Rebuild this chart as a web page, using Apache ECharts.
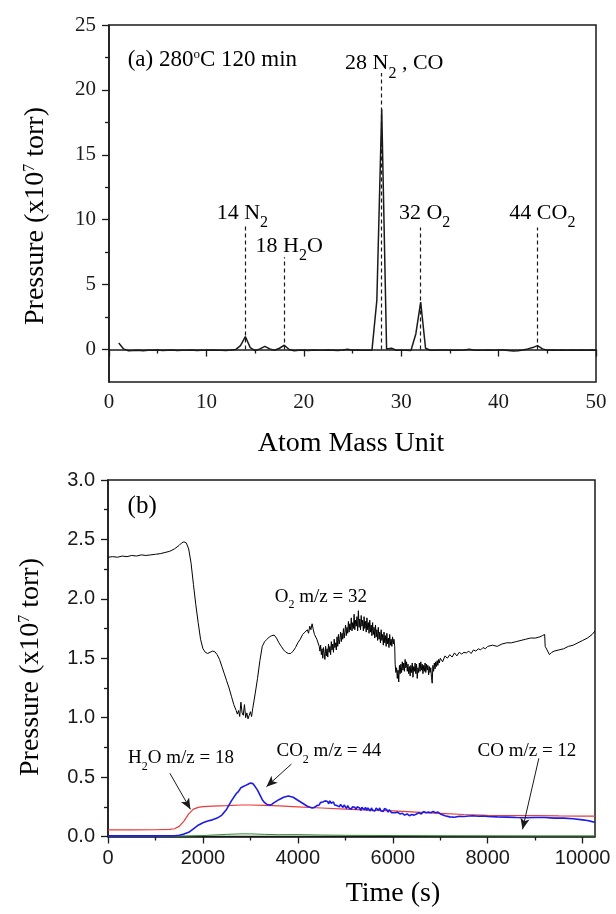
<!DOCTYPE html>
<html><head><meta charset="utf-8">
<script src="https://cdn.jsdelivr.net/npm/echarts@6/dist/echarts.min.js"></script>
<style>html,body{margin:0;padding:0;background:#fff}#c{width:616px;height:914px}</style>
</head><body><div id="c"></div>
<script>
// ---------- (a) mass spectrum ----------
const spectrum = [[1,0.5],[1.5,0.05],[2,-0.1],[2.5,-0.08],[3,-0.05],[3.5,-0.1],[4,-0.05],[4.5,-0.06],[5,-0.04],[5.5,-0.08],
[6,-0.05],[6.5,-0.04],[7,-0.07],[7.5,-0.05],[8,-0.06],[8.5,-0.04],[9,-0.07],[9.5,-0.05],[10,-0.06],[10.5,-0.03],
[11,-0.06],[11.5,-0.05],[12,-0.07],[12.5,-0.04],[13,0.0],[13.5,0.3],[14,1.0],[14.5,0.15],[15,-0.08],[15.5,0.05],
[16,0.25],[16.5,0.05],[17,-0.05],[17.5,0.1],[18,0.33],[18.5,0.0],[19,-0.1],[19.5,-0.06],[20,-0.05],[20.5,-0.08],
[21,-0.04],[21.5,-0.05],[22,-0.06],[22.5,-0.03],[23,-0.05],[23.5,-0.07],[24,-0.04],[24.5,0.02],[25,-0.05],[25.5,-0.03],
[26,-0.06],[26.5,-0.05],[27,-0.05],[27.5,3.8],[28,18.5],[28.5,0.05],[29,0.1],[29.5,-0.05],[30,-0.06],[30.5,-0.05],
[31,-0.08],[31.5,1.2],[32,3.65],[32.5,0.1],[33,-0.05],[33.5,-0.06],[34,-0.04],[34.5,-0.03],[35,-0.05],[35.5,-0.06],
[36,-0.05],[36.5,-0.04],[37,0.02],[37.5,-0.05],[38,-0.06],[38.5,-0.05],[39,-0.04],[39.5,-0.05],[40,-0.03],[40.5,-0.04],
[41,-0.08],[41.5,-0.12],[42,-0.1],[42.5,-0.04],[43,0.05],[43.5,0.15],[44,0.3],[44.5,0.05],[45,-0.05],[45.5,-0.04],
[46,-0.05],[46.5,-0.03],[47,-0.05],[47.5,-0.04],[48,-0.05],[48.5,-0.04],[49,-0.05],[49.5,-0.04],[50,-0.05]];
const specYTicks = [0,5,10,15,20,25];
const specYMinor = [2.5,7.5,12.5,17.5,22.5];
// dashed guide lines: [mass, top value]
const peakGuides = [[14,9.5],[18,7.1],[28,21.3],[32,9.4],[44,9.4]];
// peak labels: rich text, anchor [mass, value] = left / baseline
const peakLabelText = ['{m|14 N}{s|2}','{m|18 H}{s|2}{m|O}','{m|28 N}{s|2}{m| , CO}','{m|32 O}{s|2}','{m|44 CO}{s|2}'];
const peakLabelAt = [[11.06,9.96],[15.05,7.44],[24.23,21.5],[29.77,9.96],[41.1,9.96]];
const titleAText = '{m|(a) 280}{u|o}{m|C 120 min}';
const titleAAt = [1.92,21.77];

// ---------- (b) pressure vs time ----------
const o2 = [[0,2.35],[100,2.355],[200,2.35],[300,2.36],[400,2.355],[500,2.365],[600,2.36],[700,2.37],[800,2.365],[900,2.37],
[1000,2.375],[1100,2.38],[1200,2.39],[1300,2.40],[1400,2.42],[1500,2.45],[1550,2.47],[1600,2.48],[1650,2.47],[1700,2.42],
[1750,2.30],[1800,2.12],[1850,1.95],[1900,1.80],[1950,1.66],[2000,1.58],[2050,1.55],[2100,1.54],[2150,1.55],[2200,1.56],
[2250,1.555],[2300,1.53],[2350,1.49],[2400,1.43],[2450,1.37],[2500,1.31],[2550,1.25],[2600,1.18],[2650,1.11],[2700,1.06],
[2725,1.03],[2750,1.06],[2775,1.01],[2800,1.13],[2825,1.04],[2850,1.02],[2875,1.11],[2900,1.0],[2925,1.04],[2950,0.99],
[2975,1.02],[3000,1.05],[3025,1.01],[3050,1.08],[3100,1.2],[3150,1.33],[3200,1.48],[3250,1.6],[3300,1.64],[3350,1.66],
[3400,1.68],[3450,1.69],[3500,1.695],[3550,1.67],[3600,1.63],[3650,1.6],[3700,1.57],[3750,1.55],[3800,1.54],[3850,1.54],
[3900,1.56],[3950,1.59],[4000,1.63],[4050,1.66],[4100,1.7],[4150,1.72],[4200,1.74],[4225,1.71],[4250,1.77],[4275,1.74],
[4300,1.79],[4325,1.74],[4350,1.70],[4400,1.66],
[4450,1.60],[4465,1.56],[4480,1.61],[4495,1.53],[4510,1.58],[4525,1.50],[4540,1.59],[4555,1.54],[4570,1.49],[4585,1.60],
[4600,1.52],[4615,1.58],[4630,1.51],[4645,1.62],[4660,1.55],[4675,1.60],[4690,1.53],[4705,1.64],[4720,1.57],[4735,1.62],
[4750,1.55],[4765,1.66],[4780,1.59],[4795,1.63],[4810,1.57],[4825,1.68],[4840,1.60],[4855,1.70],[4870,1.62],[4885,1.66],
[4900,1.72],[4915,1.64],[4930,1.71],[4945,1.66],[4960,1.75],[4975,1.67],[4990,1.72],[5005,1.78],[5020,1.69],[5035,1.76],
[5050,1.71],[5065,1.81],[5080,1.72],[5095,1.79],[5110,1.74],[5125,1.84],[5140,1.73],[5155,1.80],[5170,1.75],[5185,1.87],
[5200,1.74],[5215,1.82],[5230,1.77],[5245,1.85],[5260,1.73],[5275,1.90],[5290,1.76],[5305,1.83],[5320,1.74],[5335,1.86],
[5350,1.77],[5365,1.82],[5380,1.73],[5395,1.85],[5410,1.75],[5425,1.81],[5440,1.72],[5455,1.84],[5470,1.74],[5485,1.80],
[5500,1.71],[5515,1.82],[5530,1.72],[5545,1.78],[5560,1.69],[5575,1.80],[5590,1.70],[5605,1.76],[5620,1.67],[5635,1.78],
[5650,1.68],[5665,1.74],[5680,1.65],[5695,1.76],[5710,1.66],[5725,1.72],[5740,1.63],[5755,1.74],[5770,1.65],[5785,1.70],
[5800,1.61],[5815,1.72],[5830,1.63],[5845,1.69],[5860,1.60],[5875,1.71],[5890,1.62],[5905,1.67],[5920,1.59],[5935,1.70],
[5950,1.61],[5965,1.66],[5980,1.60],[5995,1.68],[6010,1.62],[6025,1.66],[6040,1.60],[6050,1.45],
[6065,1.38],[6080,1.42],[6095,1.33],[6110,1.40],[6125,1.30],[6140,1.44],[6155,1.37],[6170,1.45],[6185,1.38],[6200,1.47],
[6215,1.40],[6230,1.46],[6245,1.39],[6260,1.49],[6275,1.42],[6290,1.47],[6305,1.39],[6320,1.45],[6335,1.37],[6350,1.43],
[6365,1.35],[6380,1.44],[6395,1.38],[6410,1.46],[6425,1.34],[6440,1.43],[6455,1.39],[6470,1.46],[6485,1.37],[6500,1.45],
[6515,1.33],[6530,1.42],[6545,1.38],[6560,1.46],[6575,1.39],[6590,1.47],[6605,1.40],[6620,1.45],[6635,1.37],[6650,1.44],
[6665,1.39],[6680,1.46],[6695,1.38],[6710,1.45],[6725,1.40],[6740,1.44],[6755,1.36],[6770,1.43],[6785,1.38],[6800,1.42],
[6815,1.34],[6830,1.29],[6845,1.44],[6860,1.39],[6875,1.46],[6890,1.41],[6905,1.47],[6920,1.43],[6935,1.48],[6950,1.44],
[6965,1.49],[6980,1.46],[7000,1.5],
[7050,1.47],[7100,1.52],[7150,1.5],[7200,1.53],[7250,1.51],[7300,1.545],
[7350,1.52],[7400,1.55],[7450,1.535],[7500,1.55],[7550,1.545],[7600,1.56],[7650,1.54],[7700,1.57],[7750,1.56],[7800,1.58],
[7850,1.57],[7900,1.59],[7950,1.58],[8000,1.6],[8100,1.61],[8200,1.6],[8300,1.62],[8400,1.63],[8500,1.63],[8600,1.64],
[8700,1.65],[8800,1.66],[8900,1.67],[9000,1.67],[9100,1.68],[9150,1.69],[9200,1.7],[9210,1.6],[9250,1.57],[9300,1.53],
[9350,1.55],[9400,1.56],[9500,1.57],[9600,1.58],[9700,1.6],[9800,1.61],[9900,1.63],[10000,1.65],[10100,1.67],[10200,1.7],
[10260,1.73]];
const h2o = [[0,0.055],[500,0.056],[1000,0.057],[1300,0.06],[1400,0.065],[1500,0.085],[1600,0.13],[1700,0.19],[1800,0.23],
[1900,0.245],[2000,0.252],[2200,0.256],[2500,0.26],[2800,0.265],[3000,0.265],[3300,0.262],[3600,0.258],[4000,0.25],
[4500,0.24],[5000,0.23],[5500,0.222],[6000,0.215],[6500,0.205],[7000,0.195],[7500,0.185],[8000,0.178],[8500,0.175],
[9000,0.175],[9500,0.173],[10000,0.172],[10260,0.171]];
const co2 = [[0,0.005],[500,0.005],[1000,0.005],[1400,0.006],[1500,0.01],[1600,0.02],[1700,0.035],[1800,0.065],[1900,0.095],
[2000,0.115],[2100,0.13],[2200,0.14],[2300,0.155],[2400,0.18],[2500,0.23],[2600,0.3],[2700,0.36],[2750,0.38],[2800,0.41],
[2850,0.42],[2900,0.43],[2950,0.44],[3000,0.45],[3050,0.445],[3100,0.42],[3150,0.39],[3200,0.35],[3250,0.31],[3300,0.285],
[3350,0.27],[3400,0.265],[3450,0.27],[3500,0.285],[3600,0.31],[3700,0.33],[3800,0.34],[3900,0.33],[4000,0.305],[4100,0.28],
[4200,0.255],[4300,0.24],[4350,0.245],[4400,0.26],[4425,0.275],[4450,0.265],[4475,0.285],[4500,0.275],[4525,0.29],[4550,0.28],
[4575,0.3],[4600,0.285],[4625,0.295],[4650,0.275],[4675,0.3],[4700,0.28],[4725,0.27],[4750,0.29],[4775,0.265],[4800,0.28],
[4825,0.26],[4850,0.275],[4875,0.25],[4900,0.27],[4925,0.255],[4950,0.245],[4975,0.265],[5000,0.25],[5025,0.235],[5050,0.26],
[5075,0.24],[5100,0.255],[5125,0.23],[5150,0.25],[5175,0.235],[5200,0.245],[5225,0.225],[5250,0.25],[5275,0.235],[5300,0.24],
[5325,0.22],[5350,0.245],[5375,0.23],[5400,0.225],[5425,0.245],[5450,0.22],[5475,0.24],[5500,0.225],[5525,0.215],[5550,0.24],
[5575,0.22],[5600,0.235],[5625,0.215],[5650,0.24],[5675,0.225],[5700,0.22],[5725,0.24],[5750,0.215],[5775,0.23],[5800,0.21],
[5825,0.235],[5850,0.22],[5875,0.225],[5900,0.205],[5925,0.225],[5950,0.215],[5975,0.2],[6000,0.215],[6050,0.2],[6100,0.205],
[6150,0.19],[6200,0.195],[6250,0.18],[6300,0.19],[6350,0.175],[6400,0.185],[6450,0.18],[6500,0.19],[6550,0.2],[6600,0.19],
[6650,0.21],[6700,0.2],[6725,0.215],[6750,0.205],[6775,0.22],[6800,0.2],[6825,0.215],[6850,0.21],[6900,0.2],[6950,0.205],
[7000,0.19],[7100,0.175],[7200,0.165],[7300,0.162],[7400,0.17],[7500,0.168],[7600,0.172],[7700,0.175],[7800,0.17],[7900,0.172],
[8000,0.168],[8200,0.165],[8400,0.163],[8600,0.16],[8800,0.158],[9000,0.16],[9200,0.16],[9400,0.155],[9600,0.155],[9800,0.15],
[10000,0.14],[10100,0.135],[10200,0.125],[10260,0.12]];
const co = [[0,0.002],[1500,0.002],[2000,0.008],[2500,0.018],[2800,0.022],[3000,0.022],[3300,0.018],[3600,0.015],[4000,0.016],
[4500,0.012],[5000,0.01],[6000,0.008],[7000,0.006],[8000,0.005],[9000,0.004],[10260,0.004]];
const timeTicks = [0,2000,4000,6000,8000,10000];
const timeMinor = [1000,3000,5000,7000,9000];
// arrows: [from, to] in [time, pressure]
const arrows = [[[1304,0.532],[1737,0.229]],[[3865,0.61],[3338,0.419]],[[9077,0.658],[8733,0.061]]];
const bLabelText = ['{m|(b)}','{m|O}{s|2}{m| m/z = 32}','{m|H}{s|2}{m|O m/z = 18}','{m|CO}{s|2}{m| m/z = 44}','{m|CO m/z = 12}'];
const bLabelAt = [[413,2.706],[3513,1.968],[421,0.61],[3549,0.669],[7785,0.669]];

const SERIF = '"Liberation Serif","Times New Roman",serif';
const SANS = '"Liberation Sans",Arial,sans-serif';
const INK = '#1a1a1a';

const axisLine = {show:true, lineStyle:{color:INK, width:1.5}};
const chart = echarts.init(document.getElementById('c'), null, {renderer:'canvas'});

const option = {
  animation:false,
  backgroundColor:'#fff',
  grid:[
    {left:109, top:25, width:487, height:357, show:true, borderColor:INK, borderWidth:1.5, backgroundColor:'transparent'},
    {left:108, top:480, width:487, height:356.5, show:true, borderColor:INK, borderWidth:1.5, backgroundColor:'transparent'}
  ],
  xAxis:[
    {gridIndex:0, type:'value', min:0, max:50, interval:10, position:'bottom', axisLine,
     axisTick:{inside:false, length:7, lineStyle:{color:INK, width:1.3}},
     minorTick:{show:true, splitNumber:2, length:4, lineStyle:{color:INK, width:1.3}},
     axisLabel:{fontFamily:SERIF, fontSize:21, color:INK, margin:10}, splitLine:{show:false}},
    {gridIndex:1, type:'value', min:0, max:10260, position:'bottom', axisLine,
     axisTick:{inside:false, length:7, customValues:timeTicks, lineStyle:{color:INK, width:1.3}},
     axisLabel:{fontFamily:SANS, fontSize:20, color:INK, margin:12, customValues:timeTicks, formatter:v=>String(v)}, splitLine:{show:false}},
    {gridIndex:1, type:'value', min:0, max:10260, position:'bottom', axisLine:{show:false},
     axisTick:{inside:false, length:4, customValues:timeMinor, lineStyle:{color:INK, width:1.3}},
     axisLabel:{show:false}, splitLine:{show:false}}
  ],
  yAxis:[
    {gridIndex:0, type:'value', min:-2.5, max:25, position:'left', axisLine,
     axisTick:{inside:false, length:7, customValues:specYTicks, lineStyle:{color:INK, width:1.3}},
     axisLabel:{fontFamily:SERIF, fontSize:21, color:INK, margin:13, customValues:specYTicks}, splitLine:{show:false}},
    {gridIndex:0, type:'value', min:-2.5, max:25, position:'left', axisLine:{show:false},
     axisTick:{inside:false, length:4, customValues:specYMinor, lineStyle:{color:INK, width:1.3}},
     axisLabel:{show:false}, splitLine:{show:false}},
    {gridIndex:1, type:'value', min:0, max:3, interval:0.5, position:'left', axisLine,
     axisTick:{inside:false, length:7, lineStyle:{color:INK, width:1.3}},
     minorTick:{show:true, splitNumber:2, length:4, lineStyle:{color:INK, width:1.3}},
     axisLabel:{fontFamily:SANS, fontSize:20, color:INK, margin:13, formatter:v=>v.toFixed(1)}, splitLine:{show:false}}
  ],
  series:[
    {type:'line', xAxisIndex:0, yAxisIndex:0, data:spectrum, showSymbol:false, symbol:'none',
     lineStyle:{color:INK, width:1.5}, z:3,
     markLine:{silent:true, symbol:['none','none'], animation:false,
       lineStyle:{color:INK, type:[4,3], width:1.2}, label:{show:false},
       data:peakGuides.map(g=>[{coord:[g[0],0]},{coord:[g[0],g[1]]}])}},
    {type:'line', xAxisIndex:1, yAxisIndex:2, data:o2, showSymbol:false, symbol:'none', lineStyle:{color:'#000', width:1}, z:3},
    {type:'line', xAxisIndex:1, yAxisIndex:2, data:co, showSymbol:false, symbol:'none', lineStyle:{color:'#2e8b2e', width:1}, z:3},
    {type:'line', xAxisIndex:1, yAxisIndex:2, data:h2o, showSymbol:false, symbol:'none', lineStyle:{color:'#ee3a3a', width:1.2}, z:3},
    {type:'line', xAxisIndex:1, yAxisIndex:2, data:co2, showSymbol:false, symbol:'none', lineStyle:{color:'#1c1ce6', width:1.6}, z:4,
     markLine:{silent:true, symbol:['none','arrow'], symbolSize:[7,11], animation:false,
       lineStyle:{color:INK, type:'solid', width:1}, label:{show:false},
       data:arrows.map(a=>[{coord:a[0]},{coord:a[1]}])}}
  ]
};
chart.setOption(option);

function rich(F, S, P, fam){
  return {
    m:{fontFamily:fam, fontSize:F, lineHeight:F, color:INK, padding:[0,0,P,0], verticalAlign:'bottom'},
    s:{fontFamily:fam, fontSize:S, lineHeight:S, color:INK, verticalAlign:'bottom'},
    u:{fontFamily:fam, fontSize:S, lineHeight:S, color:INK, padding:[0,0,F+P-S,0], verticalAlign:'bottom'}
  };
}
function label(seriesIndex, at, text, F, S, P){
  const p = chart.convertToPixel({seriesIndex}, at);
  return {type:'text', x:p[0], y:p[1] + P + 0.18*F, z:10, silent:true,
    style:{text, rich:rich(F,S,P,SERIF), align:'left', verticalAlign:'bottom', textAlign:'left', textVerticalAlign:'bottom'}};
}
function title(x, y, text, rot, F, S, P){
  return {type:'text', x, y, rotation:rot, z:10, silent:true,
    style:{text, rich:rich(F,S,P,SERIF), align:'center', verticalAlign:'middle', textAlign:'center', textVerticalAlign:'middle'}};
}
const graphics = [];
peakLabelText.forEach((t,i)=>graphics.push(label(0, peakLabelAt[i], t, 22, 16, 7)));
graphics.push(label(0, titleAAt, titleAText, 23, 13, 0));
bLabelText.forEach((t,i)=>graphics.push(i===0 ? label(1, bLabelAt[i], t, 25, 14, 0) : label(1, bLabelAt[i], t, 19, 12, 5)));
graphics.push(title(36, 216, '{m|Pressure (x10}{u|7}{m| torr)}', Math.PI/2, 28, 16, 0));
graphics.push(title(351, 444, '{m|Atom Mass Unit}', 0, 28, 16, 0));
graphics.push(title(31, 667, '{m|Pressure (x10}{u|7}{m| torr)}', Math.PI/2, 28, 16, 0));
graphics.push(title(393, 894, '{m|Time (s)}', 0, 28, 16, 0));
chart.setOption({graphic:graphics});
</script></body></html>
